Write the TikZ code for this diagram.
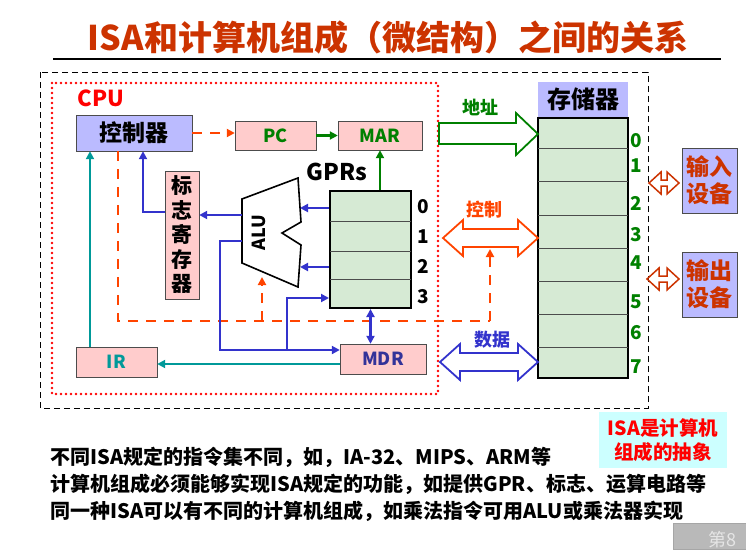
\documentclass[tikz,border=0pt]{standalone}
\usepackage{fontspec}
\setmainfont{Noto Sans CJK SC}
\usetikzlibrary{arrows.meta,calc,positioning}
\definecolor{titlered}{RGB}{204,51,0}
\definecolor{lav}{RGB}{187,187,255}
\definecolor{pinkbox}{RGB}{255,204,204}
\definecolor{memgreen}{RGB}{214,234,212}
\definecolor{busblue}{RGB}{51,51,204}
\definecolor{tealc}{RGB}{0,153,153}
\definecolor{ctlred}{RGB}{255,68,0}
\definecolor{addrgreen}{RGB}{0,128,0}
\definecolor{isacyan}{RGB}{204,255,255}
\definecolor{mdrblue}{RGB}{51,51,153}
\definecolor{devred}{RGB}{204,51,0}

\newcommand{\fs}[1]{\fontsize{#1}{#1}\selectfont\bfseries}

\tikzset{
  reg/.style={draw=black!70, fill=pinkbox, inner sep=0pt, font=\fs{18}},
  lavbox/.style={fill=lav, inner sep=0pt},
  tip/.style={-{Triangle[length=8pt,width=8pt]}},
  dtip/.style={{Triangle[length=8pt,width=8pt]}-{Triangle[length=8pt,width=8pt]}},
  ctl/.style={draw=ctlred, line width=2.5pt, dash pattern=on 10pt off 8pt},
  dat/.style={draw=busblue, line width=2.4pt},
  ins/.style={draw=tealc, line width=2.4pt},
  adr/.style={draw=addrgreen, line width=2.4pt},
  memfile/.style={draw=black, line width=2pt, fill=memgreen, inner sep=0pt},
}

\begin{document}
\begin{tikzpicture}[x=1pt,y=-1pt]
  \useasboundingbox (0,0) rectangle (746,549);

  % title
  \node[text=titlered, font=\fs{34}] (title) at (388,38) {ISA和计算机组成（微结构）之间的关系};
  \draw[line width=1.2pt] (53,59) -- (721,59);

  % frames
  \draw[dashed, line width=1pt, dash pattern=on 6pt off 4pt] (40,72) rectangle (648,408);
  \draw[red, line width=2.6pt, dash pattern=on 0pt off 5pt, line cap=round] (52,83) rectangle (438,394);
  \node[text=red, font=\fs{22}] (cpu) at (101,98) {CPU};

  % CPU registers
  \node[lavbox, draw=black!70, minimum width=116, minimum height=36, font=\fs{23}] (ctrl) at (134,133) {控制器};
  \node[reg, text=addrgreen, minimum width=81, minimum height=29] (pc) at (275.5,135.5) {PC};
  \node[reg, text=addrgreen, minimum width=84, minimum height=29] (mar) at (380,135.5) {MAR};
  \node[reg, minimum width=34, minimum height=128, align=center, font=\fontsize{21}{24.5}\selectfont\bfseries] (flag) at (182,235) {标\\志\\寄\\存\\器};
  \node[reg, text=tealc, minimum width=81, minimum height=30] (ir) at (116.5,362) {IR};
  \node[reg, text=mdrblue, minimum width=86, minimum height=30] (mdr) at (383,359) {MDR};

  % general registers
  \node[memfile, minimum width=81, minimum height=117] (gprs) at (370.5,249.5) {};
  \foreach \y in {221,251,279}
    \draw[black!70] (330,\y) -- (411,\y);
  \node[font=\fs{23}] (gprlbl) at (337,172) {GPRs};
  \foreach \n/\y in {0/207,1/237,2/266,3/297}
    \node[font=\fs{19}] (g\n) at (423,\y) {\n};

  % ALU
  \coordinate (a1) at (242,199);
  \coordinate (a2) at (298,178);
  \coordinate (a3) at (301,222);
  \coordinate (a4) at (282,233);
  \coordinate (a5) at (301,245);
  \coordinate (a6) at (298,287);
  \coordinate (a7) at (242,263);
  \draw[line width=1.6pt] (a1) -- (a2) -- (a3) -- (a4) -- (a5) -- (a6) -- (a7) -- cycle;
  \node[rotate=90, font=\fs{18}] (alu) at (259,233) {ALU};

  % memory
  \node[lavbox, minimum width=90, minimum height=35, font=\fs{24}] (memhd) at (583,99.5) {存储器};
  \node[memfile, minimum width=90, minimum height=260] (mem) at (583,248) {};
  \foreach \y in {148,181,215,248,281,314,347}
    \draw[black!70] (538,\y) -- (628,\y);
  \foreach \n/\y in {0/141,1/166,2/203,3/235,4/263,5/302,6/333,7/367}
    \node[text=addrgreen, font=\fs{19}] (m\n) at (636,\y) {\n};

  % I/O devices
  \node[lavbox, draw=black!70, minimum width=55, minimum height=65, align=center, text=devred, font=\fontsize{23}{27}\selectfont\bfseries] (indev) at (709.5,180.5) {输入\\设备};
  \node[lavbox, draw=black!70, minimum width=55, minimum height=65, align=center, text=devred, font=\fontsize{23}{27}\selectfont\bfseries] (outdev) at (709.5,284.5) {输出\\设备};

  % buses
  \draw[addrgreen, line width=1.8pt] (439,123) -- (516,123) -- (516,113) -- (538,134) -- (516,155) -- (516,144) -- (439,144) -- cycle;
  \node[text=addrgreen, font=\fs{18}] (addrlbl) at (480,107) {地址};
  \draw[ctlred, line width=1.8pt] (443,238) -- (463,220) -- (463,229) -- (518,229) -- (518,220) -- (538,238) -- (518,256) -- (518,247) -- (463,247) -- (463,256) -- cycle;
  \node[text=ctlred, font=\fs{18}] (ctllbl) at (484,210) {控制};
  \coordinate (ctlbus) at (490,249);
  \draw[busblue, line width=1.8pt] (440,362) -- (460,344) -- (460,353) -- (518,353) -- (518,344) -- (538,362) -- (518,380) -- (518,371) -- (460,371) -- (460,380) -- cycle;
  \node[text=busblue, font=\fs{18}] (datlbl) at (492,340) {数据};
  \draw[devred, line width=1.5pt] (649,183) -- (661,172) -- (661,180) -- (667,180) -- (667,172) -- (679,183) -- (667,194) -- (667,186) -- (661,186) -- (661,194) -- cycle;
  \draw[devred, line width=1.5pt] (647,279) -- (659,268) -- (659,276) -- (667,276) -- (667,268) -- (679,279) -- (667,290) -- (667,282) -- (659,282) -- (659,290) -- cycle;

  % connectors
  \coordinate (tealx) at (90,0);
  \coordinate (ctlx) at (118,0);
  \coordinate (flagx) at (143,0);
  \coordinate (ctly) at (0,321);
  \coordinate (aluc) at (262,277);
  \coordinate (aout) at (242,215);
  \coordinate (ain) at (242,241);
  \coordinate (lbus) at (220,350);
  \coordinate (wb) at (287,350);
  \coordinate (wr3) at (0,298);
  \coordinate (r0) at (300,208);
  \coordinate (r2) at (300,267);

  \draw[ctl, tip] (ctrl.east) -- (ctrl.east -| pc.west);
  \draw[adr, tip] (pc) -- (mar);
  \draw[adr, tip] (mar.south |- gprs.north) -- (mar.south);
  \draw[ctl] (ctrl.south -| ctlx) |- (ctly -| ctlbus);
  \draw[ctl, tip] (ctly -| ctlbus) -- (ctlbus);
  \draw[ctl, tip] (ctly -| aluc) -- (aluc);
  \draw[ins, tip] (ir.north -| tealx) -- (ctrl.south -| tealx);
  \draw[dat, tip] ([yshift=23pt]flag.west) -| (ctrl.south -| flagx);
  \draw[dat, tip] (aout) -- (aout -| flag.east);
  \draw[dat, tip] (ain) -| (lbus) -- (lbus -| mdr.west);
  \draw[dat, tip] (wb) |- (wr3 -| gprs.west);
  \draw[dat, tip] (gprs.west |- r0) -- (r0);
  \draw[dat, tip] (gprs.west |- r2) -- (r2);
  \draw[dat, dtip] (gprs.south) -- (gprs.south |- mdr.north);
  \draw[ins, tip] ([yshift=-5pt]mdr.west) -- ([yshift=-5pt]mdr.west -| ir.east);

  % notes
  \node[fill=isacyan, minimum width=128, minimum height=56, align=center, text=red, font=\fontsize{19.5}{24}\selectfont\bfseries] (isa) at (663,440) {ISA是计算机\\组成的抽象};
  \node[anchor=west, font=\fs{20}] (n1) at (47,457) {不同ISA规定的指令集不同，如，IA-32、MIPS、ARM等};
  \node[anchor=west, font=\fs{20}] (n2) at (47,484) {计算机组成必须能够实现ISA规定的功能，如提供GPR、标志、运算电路等};
  \node[anchor=west, font=\fs{20}] (n3) at (47,511) {同一种ISA可以有不同的计算机组成，如乘法指令可用ALU或乘法器实现};

  % page corner
  \draw[gray!70, fill=gray!55] (673,523) rectangle (746,549);
  \node[anchor=west, text=gray!20, font=\fontsize{18}{18}\selectfont] (pg) at (705,540) {第8};
\end{tikzpicture}
\end{document}
